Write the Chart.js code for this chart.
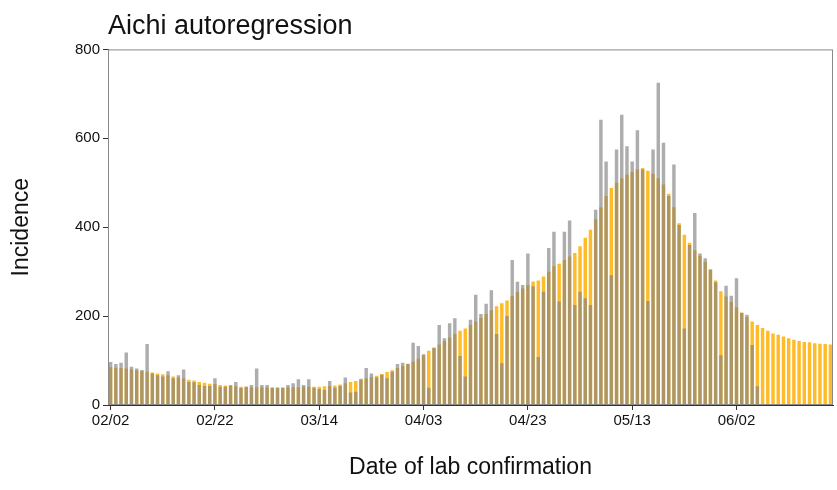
<!DOCTYPE html>
<html>
<head>
<meta charset="utf-8">
<script src="https://cdn.jsdelivr.net/npm/chart.js@4.4.0/dist/chart.umd.min.js"></script>
<style>
  html, body { margin: 0; padding: 0; background: #fff; }
  #wrap { width: 837px; height: 490px; }
</style>
</head>
<body>
<div id="wrap"><canvas id="mychart" width="837" height="490"></canvas></div>
<script>
// daily bars from 02/02 (2021) to 06/20
var dayCount = 139;
var tickLabels = ['02/02', '02/22', '03/14', '04/03', '04/23', '05/13', '06/02'];

// reported incidence (grey), ends 06/06
var observed = [97, 92, 95, 118, 86, 82, 79, 137, 71, 67,
  64, 76, 60, 67, 80, 52, 51, 45, 43, 43,
  60, 41, 41, 45, 52, 38, 41, 45, 82, 45,
  45, 38, 38, 38, 45, 49, 58, 45, 58, 39,
  36, 34, 54, 39, 43, 62, 28, 30, 59, 83,
  71, 62, 68, 60, 75, 92, 95, 92, 140, 133,
  114, 39, 129, 180, 150, 184, 195, 110, 64, 192,
  248, 205, 228, 258, 160, 94, 200, 326, 277, 270,
  341, 267, 108, 255, 353, 390, 233, 390, 415, 225,
  255, 240, 225, 439, 642, 548, 292, 575, 653, 582,
  548, 618, 530, 234, 575, 725, 590, 470, 541, 405,
  172, 360, 432, 341, 330, 305, 276, 112, 268, 246,
  285, 207, 203, 135, 42];

// autoregression fit / projection (orange)
var fitted = [85, 84, 83, 82, 80, 78, 76, 75, 73, 71,
  69, 67, 64, 62, 60, 57, 55, 52, 50, 48,
  47, 45, 44, 43, 42, 41, 41, 40, 40, 40,
  40, 40, 40, 40, 40, 40, 40, 41, 41, 41,
  41, 42, 43, 44, 46, 49, 52, 54, 57, 60,
  63, 66, 70, 74, 78, 83, 88, 93, 98, 104,
  112, 122, 129, 136, 144, 152, 160, 167, 172, 180,
  188, 196, 205, 213, 222, 229, 235, 245, 254, 262,
  270, 278, 280, 289, 300, 312, 318, 326, 334, 342,
  357, 376, 394, 418, 445, 470, 488, 500, 510, 518,
  524, 530, 533, 527, 520, 510, 496, 475, 445, 409,
  383, 365, 348, 335, 322, 305, 280, 256, 244, 232,
  220, 208, 198, 188, 180, 173, 167, 161, 158, 154,
  150, 147, 144, 142, 141, 139, 138, 137, 136];

var dates = [];
for (var i = 0; i < dayCount; i++) {
  var d = new Date(Date.UTC(2021, 1, 2 + i));
  dates.push(('0' + (d.getUTCMonth() + 1)).slice(-2) + '/' + ('0' + d.getUTCDate()).slice(-2));
}

var fontFamily = "'Liberation Sans', Arial, sans-serif";

// box round the plot area
var framePlugin = {
  id: 'frame',
  afterDraw: function(chart) {
    var a = chart.chartArea;
    var ctx = chart.ctx;
    ctx.save();
    ctx.strokeStyle = '#8a8a8a';
    ctx.lineWidth = 1;
    ctx.strokeRect(a.left + 0.5, a.top + 0.5, a.right - a.left - 1, a.bottom - a.top - 1);
    ctx.restore();
  }
};

var ctx = document.getElementById('mychart');
var chart = new Chart(ctx, {
  type: 'bar',
  data: {
    labels: dates,
    datasets: [
      {
        label: 'Observed',
        data: observed,
        backgroundColor: 'rgba(130, 130, 130, 0.66)',
        grouped: false,
        barPercentage: 0.66,
        categoryPercentage: 1.0
      },
      {
        label: 'Autoregression',
        data: fitted,
        backgroundColor: 'rgb(255, 188, 40)',
        grouped: false,
        barPercentage: 0.66,
        categoryPercentage: 1.0
      }
    ]
  },
  options: {
    responsive: false,
    animation: false,
    devicePixelRatio: 1,
    layout: { padding: { left: 0, right: 4, top: 0, bottom: 0 } },
    plugins: {
      legend: { display: false },
      tooltip: { enabled: false },
      title: {
        display: true,
        text: 'Aichi autoregression',
        align: 'start',
        fullSize: false,
        color: '#111',
        font: { family: fontFamily, size: 27, weight: 'normal' },
        padding: { top: 10, bottom: 7 }
      }
    },
    scales: {
      x: {
        offset: true,
        grid: {
          display: true,
          drawOnChartArea: false,
          offset: false,
          tickLength: 5,
          color: function(c) {
            return tickLabels.indexOf(dates[c.index]) >= 0 ? '#333' : 'rgba(0,0,0,0)';
          }
        },
        border: { display: true, color: '#333' },
        ticks: {
          autoSkip: false,
          maxRotation: 0,
          minRotation: 0,
          padding: 2,
          color: '#111',
          font: { family: fontFamily, size: 15 },
          callback: function(v, i) {
            return tickLabels.indexOf(dates[i]) >= 0 ? dates[i] : '';
          }
        },
        title: {
          display: true,
          text: 'Date of lab confirmation',
          color: '#111',
          font: { family: fontFamily, size: 23 },
          padding: { top: 0, bottom: 9 }
        },
        afterFit: function(s) { s.height = 85; }
      },
      y: {
        min: 0,
        max: 800,
        grid: { drawOnChartArea: false, tickLength: 5, color: '#333' },
        border: { display: true, color: '#333' },
        ticks: {
          stepSize: 200,
          padding: 3,
          color: '#111',
          font: { family: fontFamily, size: 15 }
        },
        title: {
          display: true,
          text: 'Incidence',
          color: '#111',
          font: { family: fontFamily, size: 23 },
          padding: { top: 8, bottom: 0 }
        },
        afterFit: function(s) { s.width = 108; }
      }
    }
  },
  plugins: [framePlugin]
});
</script>
</body>
</html>
